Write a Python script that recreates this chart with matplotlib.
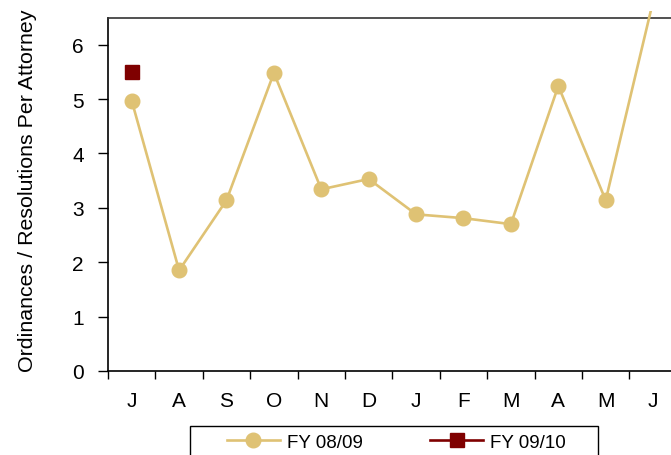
import matplotlib
matplotlib.use("Agg")
import matplotlib.pyplot as plt
from matplotlib.patches import Rectangle
from matplotlib.lines import Line2D
from matplotlib.transforms import Bbox, TransformedBbox
import numpy as np

months = ["J", "A", "S", "O", "N", "D", "J", "F", "M", "A", "M", "J"]
fy0809 = [4.97, 1.85, 3.14, 5.48, 3.34, 3.53, 2.88, 2.81, 2.70, 5.24, 3.14, 6.8]
fy0910 = [5.5]
y_ticks = [0, 1, 2, 3, 4, 5, 6]
gold = "#DFC274"
darkred = "#7F0000"

plt.rcParams['font.family'] = ['Liberation Sans', 'DejaVu Sans']

W, H = 671, 456
fig = plt.figure(figsize=(W / 100, H / 100), dpi=100)
left_px, top_px, bottom_px = 108, 19, 372
cat_w = 47.4
ax = fig.add_axes([left_px / W, (H - bottom_px) / H, 12 * cat_w / W, (bottom_px - top_px) / H])

x = np.arange(len(months))
line, = ax.plot(x, fy0809, color=gold, lw=1.9, marker="o", markersize=10.5,
                markerfacecolor=gold, markeredgecolor=gold, zorder=3)
clip = TransformedBbox(Bbox([[-0.05, -0.05], [1.0, 1.0 + 7 / (bottom_px - top_px)]]), ax.transAxes)
line.set_clip_box(clip)
ax.plot(x[:len(fy0910)], fy0910, color=darkred, lw=1.9, marker="s", markersize=10,
        markerfacecolor=darkred, markeredgecolor=darkred, zorder=4)

ax.set_xlim(-0.5, 11.5)
ax.set_ylim(0, 6.49)
ax.set_yticks(y_ticks)
ax.set_xticks(x)
ax.set_xticklabels(months)
ax.set_xticks(np.arange(-0.5, 12, 1), minor=True)
ax.tick_params(axis="x", which="major", length=0, pad=14.5, labelsize=15)
ax.tick_params(axis="x", which="minor", length=6, width=1, direction="out")
ax.tick_params(axis="y", length=7, width=1, direction="out", pad=10.5, labelsize=15)
for s in ax.spines.values():
    s.set_linewidth(1.2)
    s.set_color("black")
ax.spines["top"].set_color("#333333")
ax.set_ylabel("Ordinances / Resolutions Per Attorney", fontsize=15.4)
ax.yaxis.set_label_coords((37 - left_px) / (12 * cat_w), (bottom_px - 191) / (bottom_px - top_px))

# legend frame
fig.add_artist(Rectangle((190 / W, -0.05), (598 - 190) / W, (H - 427) / H + 0.05,
                         transform=fig.transFigure, fill=False, edgecolor="black", lw=1))
h1 = Line2D([], [], color=gold, lw=1.9, marker="o", markersize=10.5, markerfacecolor=gold, markeredgecolor=gold)
h2 = Line2D([], [], color=darkred, lw=1.9, marker="s", markersize=10, markerfacecolor=darkred, markeredgecolor=darkred)
fig.legend([h1, h2], ["FY 08/09", "FY 09/10"], ncol=2, frameon=False,
           loc="center left", bbox_to_anchor=(227 / W, 1 - 443 / H), borderaxespad=0,
           borderpad=0, fontsize=13.5, handlelength=2.8, handletextpad=0.4, columnspacing=3.6)

fig.savefig("out.png", dpi=100)
